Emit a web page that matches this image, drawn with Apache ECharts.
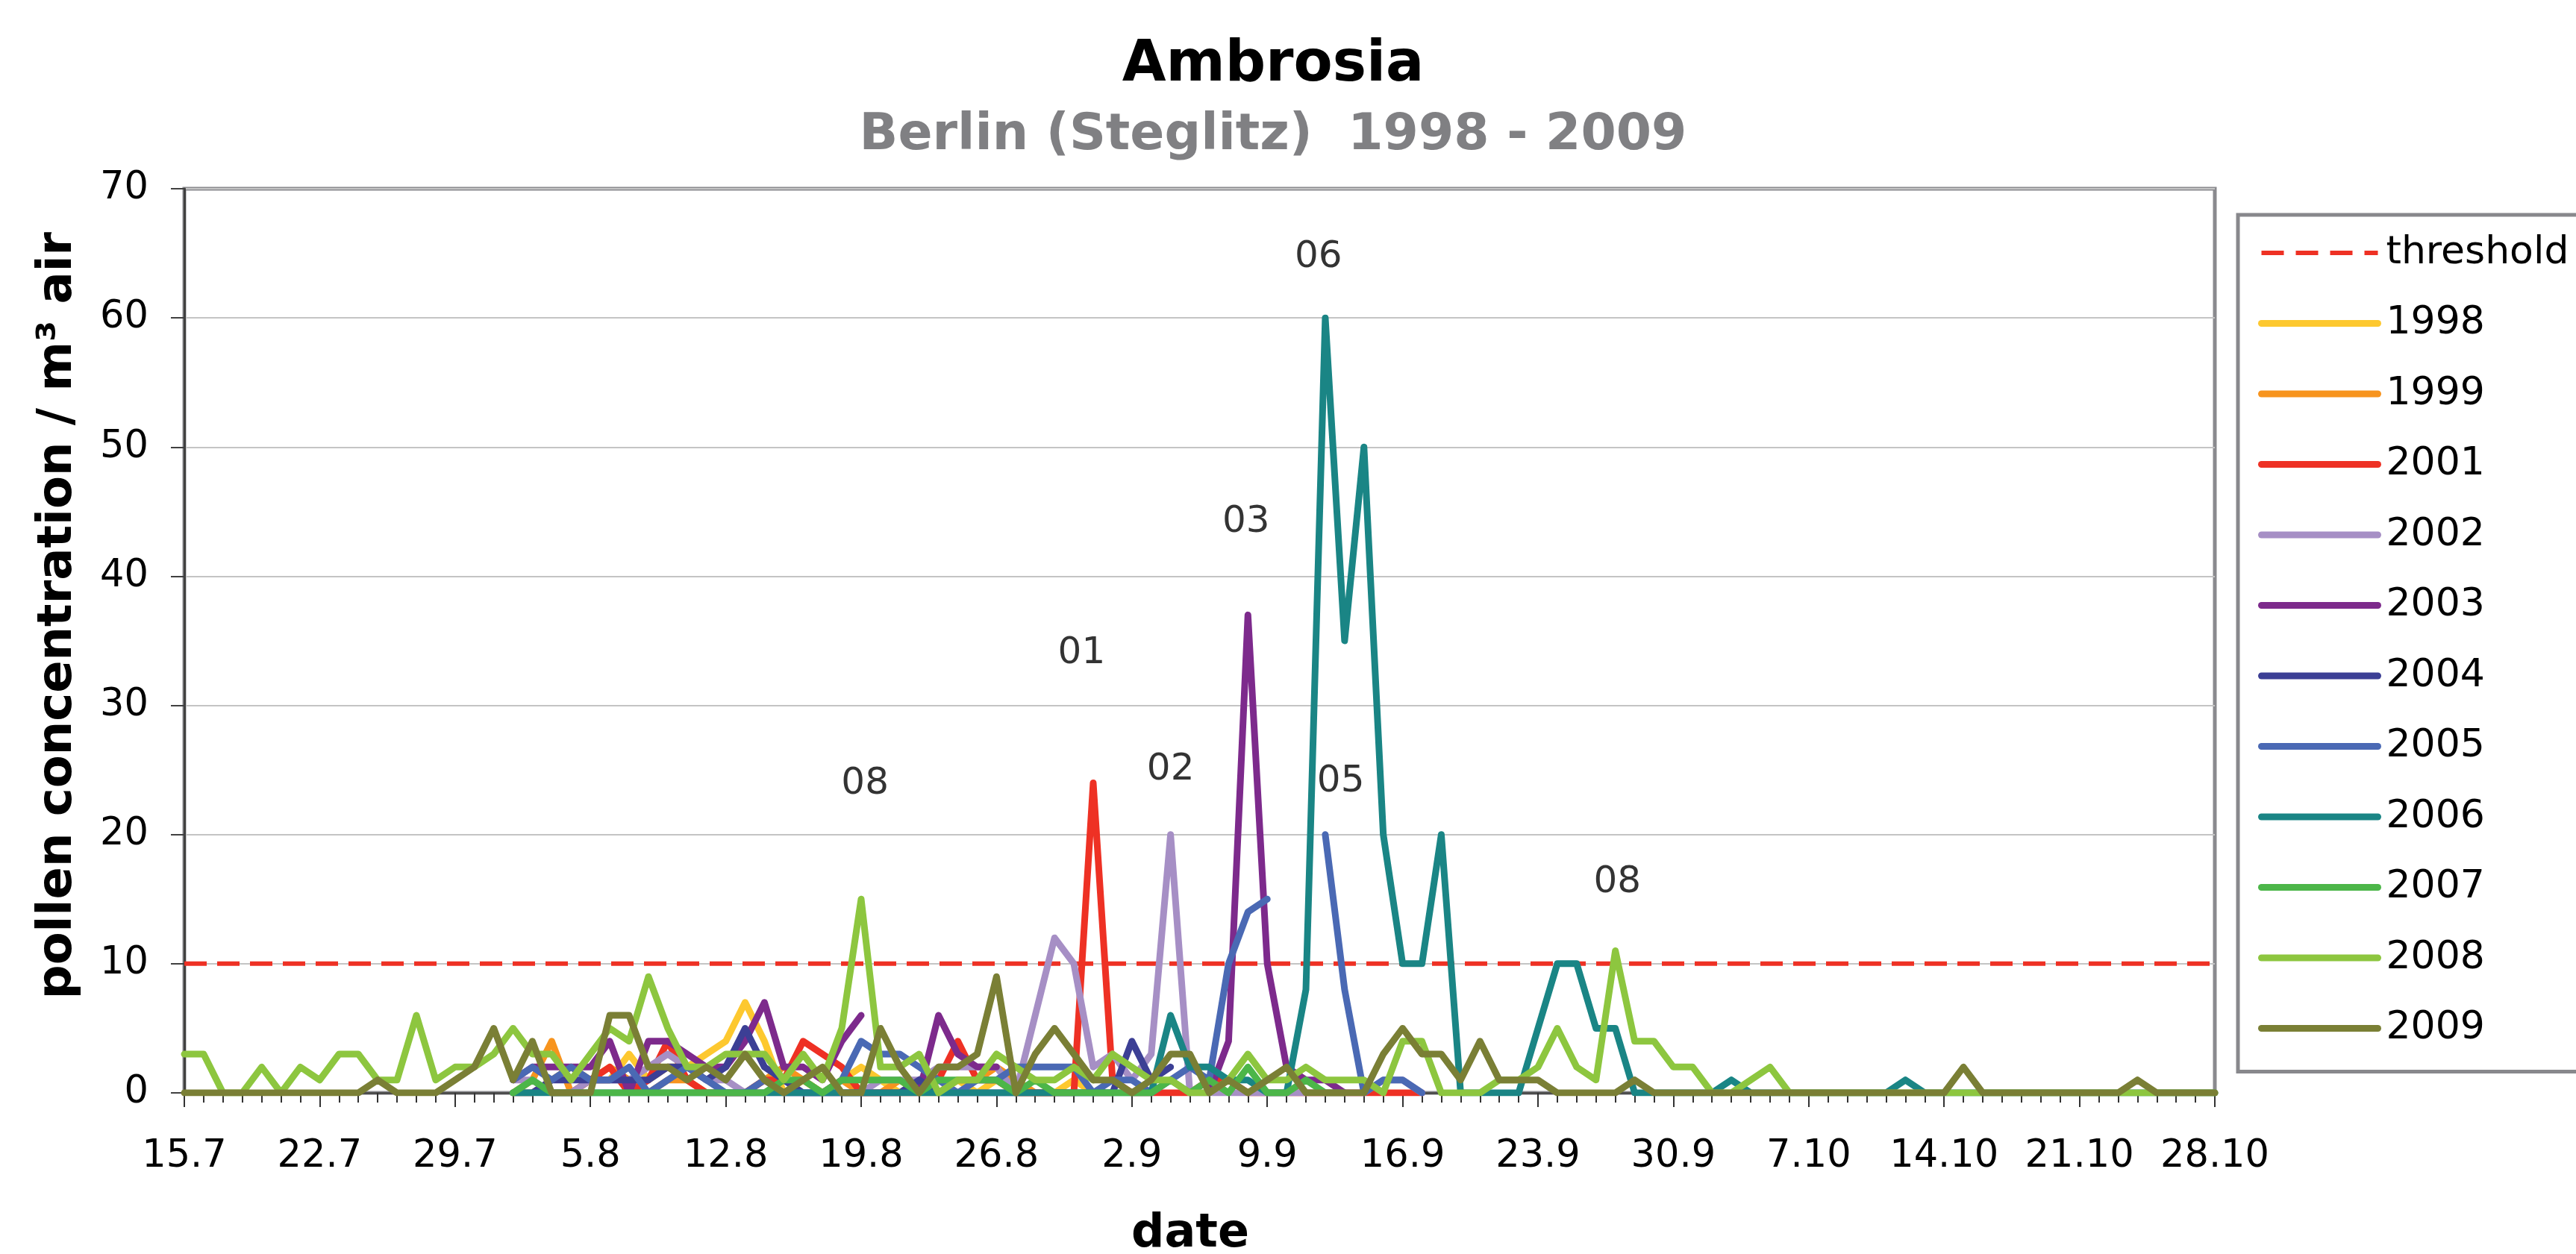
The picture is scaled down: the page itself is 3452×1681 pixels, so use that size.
<!DOCTYPE html>
<html>
<head>
<meta charset="utf-8">
<script src="https://cdn.jsdelivr.net/npm/echarts@6/dist/echarts.min.js"></script>
<style>
html,body{margin:0;padding:0;background:#fff;}
#chart{width:3452px;height:1681px;}
</style>
</head>
<body>
<div id="chart"></div>
<script>
const FONT = 'DejaVu Sans';
const _ = null;

// x axis: one category per day, 15.7 .. 28.10 (106 days); labels every 7 days
const tickLabels = ['15.7','22.7','29.7','5.8','12.8','19.8','26.8','2.9','9.9','16.9','23.9','30.9','7.10','14.10','21.10','28.10'];
const dayCount = 106;
const labelStep = 7;

const seriesNames = ['1998','1999','2001','2002','2003','2004','2005','2006','2007','2008','2009'];
const thresholdValue = 10;

// values per day (one row = one week)
const v1998 = [
 _,_,_,_,_,_,_,
 _,_,_,_,_,_,_,
 _,_,_,0,0,1,2,
 1,1,3,1,2,2,3,
 4,7,4,0,1,0,1,
 2,1,0,1,0,1,0,
 1,0,0,0,1,0,0,
 _,_,_,_,_,_,_,
 _,_,_,_,_,_,_,
 _,_,_,_,_,_,_,
 _,_,_,_,_,_,_,
 _,_,_,_,_,_,_,
 _,_,_,_,_,_,_,
 _,_,_,_,_,_,_,
 _,_,_,_,_,_,_,
 _];
const v1999 = [
 _,_,_,_,_,_,_,
 _,_,_,_,_,_,_,
 _,_,_,0,1,4,0,
 1,2,1,0,1,1,0,
 0,0,1,2,1,0,1,
 0,0,1,0,0,1,1,
 2,1,0,0,_,_,_,
 _,_,_,_,_,_,_,
 _,_,_,_,_,_,_,
 _,_,_,_,_,_,_,
 _,_,_,_,_,_,_,
 _,_,_,_,_,_,_,
 _,_,_,_,_,_,_,
 _,_,_,_,_,_,_,
 _,_,_,_,_,_,_,
 _];
const v2001 = [
 _,_,_,_,_,_,_,
 _,_,_,_,_,_,_,
 _,_,_,_,_,0,0,
 1,2,0,1,4,1,0,
 0,0,1,1,4,3,2,
 0,0,0,0,1,4,1,
 1,0,0,0,0,24,1,
 0,0,0,0,1,1,0,
 0,0,0,0,0,0,0,
 0,0,_,_,_,_,_,
 _,_,_,_,_,_,_,
 _,_,_,_,_,_,_,
 _,_,_,_,_,_,_,
 _,_,_,_,_,_,_,
 _,_,_,_,_,_,_,
 _];
const v2002 = [
 _,_,_,_,_,_,_,
 _,_,_,_,_,_,_,
 _,_,_,1,1,0,0,
 1,1,1,2,3,2,1,
 1,0,0,0,0,0,0,
 0,1,1,1,2,2,2,
 2,0,6,12,10,2,3,
 1,3,20,0,0,0,0,
 0,0,0,0,0,0,1,
 1,0,_,_,_,_,_,
 _,_,_,_,_,_,_,
 _,_,_,_,_,_,_,
 _,_,_,_,_,_,_,
 _,_,_,_,_,_,_,
 _,_,_,_,_,_,_,
 _];
const v2003 = [
 _,_,_,_,_,_,_,
 _,_,_,_,_,_,_,
 _,_,_,1,2,2,2,
 2,4,0,4,4,3,2,
 2,4,7,2,2,1,4,
 6,_,_,0,6,3,2,
 2,_,_,_,_,_,_,
 _,_,_,_,0,4,37,
 10,2,1,1,0,_,_,
 _,_,_,_,_,_,_,
 _,_,_,_,_,_,_,
 _,_,_,_,_,_,_,
 _,_,_,_,_,_,_,
 _,_,_,_,_,_,_,
 _,_,_,_,_,_,_,
 _];
const v2004 = [
 _,_,_,_,_,_,_,
 _,_,_,_,_,_,_,
 _,_,_,0,0,1,1,
 1,1,1,1,2,2,1,
 2,5,2,1,0,0,0,
 0,0,0,1,0,0,0,
 0,0,0,0,0,0,0,
 4,1,2,_,_,_,_,
 _,_,_,_,_,_,_,
 _,_,_,_,_,_,_,
 _,_,_,_,_,_,_,
 _,_,_,_,_,_,_,
 _,_,_,_,_,_,_,
 _,_,_,_,_,_,_,
 _,_,_,_,_,_,_,
 _];
const v2005 = [
 _,_,_,_,_,_,_,
 _,_,_,_,_,_,_,
 _,_,_,1,2,1,2,
 1,1,2,0,1,2,1,
 0,0,1,0,0,0,1,
 4,3,3,2,1,0,1,
 1,2,2,2,2,0,1,
 1,0,1,2,1,10,14,
 15,_,_,20,8,0,1,
 1,0,_,_,_,_,_,
 _,_,_,_,_,_,_,
 _,_,_,_,_,_,_,
 _,_,_,_,_,_,_,
 _,_,_,_,_,_,_,
 _,_,_,_,_,_,_,
 _];
const v2006 = [
 _,_,_,_,_,_,_,
 _,_,_,_,_,_,_,
 _,_,_,0,0,0,0,
 0,0,0,0,0,0,0,
 0,0,0,0,0,0,0,
 0,0,0,0,0,0,0,
 0,0,0,0,0,0,0,
 0,0,6,2,2,1,1,
 0,0,8,60,35,50,20,
 10,10,20,0,0,0,0,
 5,10,10,5,5,0,0,
 0,0,0,1,0,0,0,
 0,0,0,0,0,1,0,
 0,0,0,0,0,0,0,
 0,0,0,0,0,0,0,
 0];
const v2007 = [
 _,_,_,_,_,_,_,
 _,_,_,_,_,_,_,
 _,_,_,0,1,0,0,
 0,0,0,0,0,0,0,
 0,0,0,1,1,0,1,
 1,1,1,0,1,1,1,
 1,0,1,0,0,0,0,
 0,0,1,0,1,0,2,
 0,0,1,0,0,_,_,
 _,_,_,_,_,_,_,
 _,_,_,_,_,_,_,
 _,_,_,_,_,_,_,
 _,_,_,_,_,_,_,
 _,_,_,_,_,_,_,
 _,_,_,_,_,_,_,
 _];
const v2008 = [
 3,3,0,0,2,0,2,
 1,3,3,1,1,6,1,
 2,2,3,5,3,3,1,
 3,5,4,9,5,2,2,
 3,3,3,1,3,1,5,
 15,2,2,3,0,1,1,
 3,2,1,1,2,1,3,
 2,1,1,0,0,1,3,
 1,1,2,1,1,1,0,
 4,4,0,0,0,1,1,
 2,5,2,1,11,4,4,
 2,2,0,0,1,2,0,
 0,0,0,0,0,0,0,
 0,0,0,0,0,0,0,
 0,0,0,0,0,0,0,
 0];
const v2009 = [
 0,0,0,0,0,0,0,
 0,0,0,1,0,0,0,
 1,2,5,1,4,0,0,
 0,6,6,2,2,1,2,
 1,3,1,0,1,2,0,
 0,5,2,0,2,2,3,
 9,0,3,5,3,1,1,
 0,1,3,3,0,1,0,
 1,2,0,0,0,0,3,
 5,3,3,1,4,1,1,
 1,0,0,0,0,1,0,
 0,0,0,0,0,0,0,
 0,0,0,0,0,0,0,
 0,2,0,0,0,0,0,
 0,0,0,1,0,0,0,
 0];

// peak annotations (text, day index, concentration)
const annotationTexts = ['08','01','02','03','06','05','08'];
const annotationDays  = [35.2, 46.4, 51.0, 54.9, 58.65, 59.8, 74.1];
const annotationVals  = [23.9, 34.0, 25.0, 44.2, 64.7, 24.1, 16.3];

const yearValues = [v1998,v1999,v2001,v2002,v2003,v2004,v2005,v2006,v2007,v2008,v2009];
const colors = ['#fdc82f','#f7941e','#ee3124','#a68fc5','#7d2a8c','#3c3f95','#4a69b4','#1a8585','#4cb649','#8dc63f','#7a7f35'];

const toPairs = arr => arr.map((v, i) => [i, v === null ? '-' : v]);

const chart = echarts.init(document.getElementById('chart'), null, {renderer: 'canvas', width: 3452, height: 1681});

const thresholdStyle = {color: '#ee3124', width: 6, type: [30, 14]};
const series = [{
  name: 'threshold', type: 'line', symbol: 'none', z: 1,
  data: [[0, thresholdValue], [dayCount - 1, thresholdValue]],
  lineStyle: thresholdStyle,
  itemStyle: {color: '#ee3124'},
  silent: true
}];
seriesNames.forEach((name, k) => {
  series.push({
    name: name, type: 'line', symbol: 'none', showSymbol: false, z: 2,
    data: toPairs(yearValues[k]),
    connectNulls: false,
    lineStyle: {color: colors[k], width: 9, cap: 'round', join: 'round'},
    itemStyle: {color: colors[k]},
    silent: true
  });
});
series.push({
  name: 'annotations', type: 'scatter', symbolSize: 0, z: 5, silent: true,
  data: annotationTexts.map((t, i) => ({name: t, value: [annotationDays[i], annotationVals[i]]})),
  label: {show: true, position: 'inside', formatter: '{b}', fontFamily: FONT, fontSize: 50, color: '#000'}
});

const legendData = [{name: 'threshold', lineStyle: {width: 6, type: [30, 16], color: '#ee3124', cap: 'butt'}}]
  .concat(seriesNames.map(n => ({name: n})));

const option = {
  animation: false,
  backgroundColor: '#fff',
  grid: {left: 247, right: 484, top: 253, bottom: 216, show: true, borderColor: '#8a8a8e', borderWidth: 5, containLabel: false},
  xAxis: {
    type: 'value', min: 0, max: dayCount - 1, interval: labelStep,
    axisLine: {show: true, onZero: false, lineStyle: {color: '#4d4d4d', width: 3}},
    axisTick: {show: true, length: 19, lineStyle: {color: '#333', width: 2}},
    minorTick: {show: true, splitNumber: labelStep, length: 13, lineStyle: {color: '#333', width: 2}},
    splitLine: {show: false},
    axisLabel: {formatter: v => tickLabels[Math.round(v / labelStep)], fontFamily: FONT, fontSize: 51, color: '#000', margin: 60}
  },
  yAxis: {
    type: 'value', min: 0, max: 70, interval: 10,
    axisLine: {show: true, lineStyle: {color: '#404040', width: 3}},
    axisTick: {show: true, length: 18, lineStyle: {color: '#404040', width: 2}},
    splitLine: {show: true, lineStyle: {color: '#c4c4c4', width: 2}},
    axisLabel: {fontFamily: FONT, fontSize: 51, color: '#000', margin: 48}
  },
  legend: {
    data: legendData,
    orient: 'vertical', left: 2999, top: 288,
    padding: [21, 60, 28, 27],
    itemWidth: 156, itemHeight: 60, itemGap: 34.5,
    backgroundColor: '#fff', borderColor: '#88888c', borderWidth: 5,
    textStyle: {fontFamily: FONT, fontSize: 52, lineHeight: 60, color: '#000', padding: [0, 0, 0, 6]},
    itemStyle: {opacity: 0},
    lineStyle: {width: 9, cap: 'round'},
    selectedMode: false
  },
  graphic: [
    {type: 'text', x: 1706, y: 88, style: {text: 'Ambrosia', fontFamily: FONT, fontSize: 76, fontWeight: 'bold', fill: '#000', align: 'center', verticalAlign: 'middle'}},
    {type: 'text', x: 1706, y: 182, style: {text: 'Berlin (Steglitz)  1998 - 2009', fontFamily: FONT, fontSize: 68, fontWeight: 'bold', fill: '#808083', align: 'center', verticalAlign: 'middle'}},
    {type: 'text', x: 78, y: 825, rotation: Math.PI / 2, style: {text: 'pollen concentration / m³ air', fontFamily: FONT, fontSize: 64, fontWeight: 'bold', fill: '#000', align: 'center', verticalAlign: 'middle'}},
    {type: 'text', x: 1595, y: 1655, style: {text: 'date', fontFamily: FONT, fontSize: 62, fontWeight: 'bold', fill: '#000', align: 'center', verticalAlign: 'middle'}}
  ],
  series: series
};
chart.setOption(option);
</script>
</body>
</html>
